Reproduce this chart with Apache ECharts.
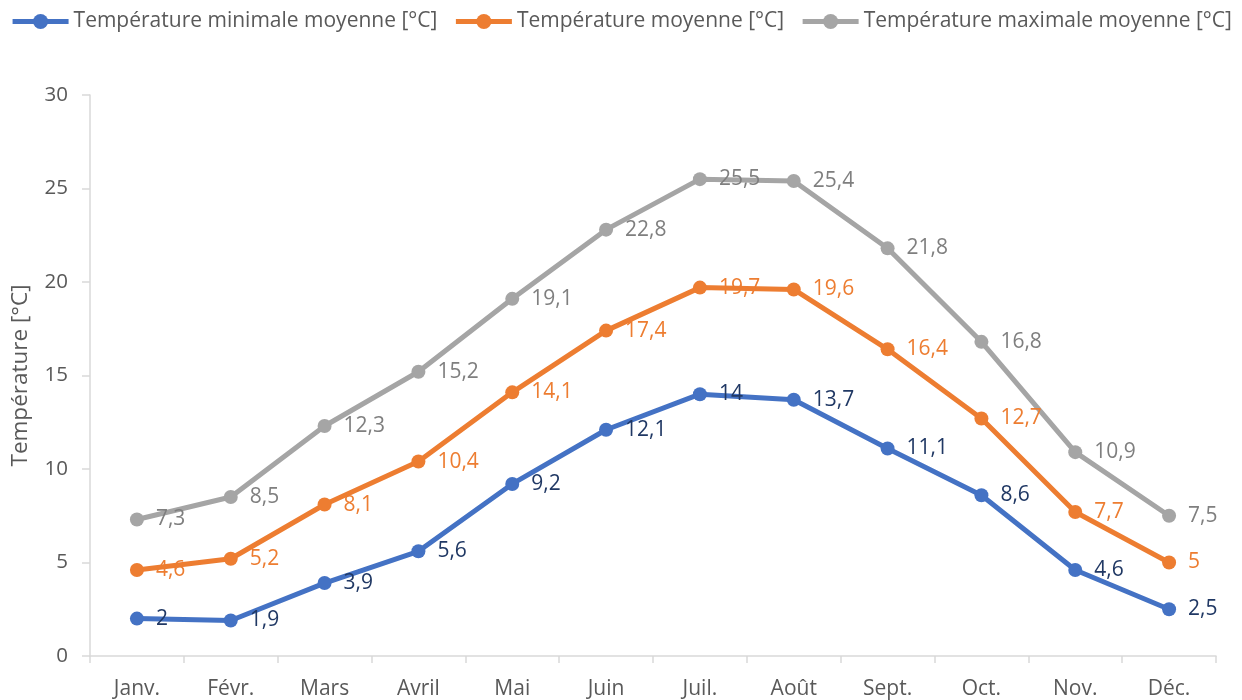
<!DOCTYPE html>
<html>
<head>
<meta charset="utf-8">
<script src="https://cdn.jsdelivr.net/npm/echarts@6/dist/echarts.min.js"></script>
<style>html,body{margin:0;padding:0;background:#fff}#c{width:1242px;height:700px}</style>
</head>
<body>
<div id="c"></div>
<script>
const months = ['Janv.','Févr.','Mars','Avril','Mai','Juin','Juil.','Août','Sept.','Oct.','Nov.','Déc.'];
const tMin = [2, 1.9, 3.9, 5.6, 9.2, 12.1, 14, 13.7, 11.1, 8.6, 4.6, 2.5];
const tMoy = [4.6, 5.2, 8.1, 10.4, 14.1, 17.4, 19.7, 19.6, 16.4, 12.7, 7.7, 5];
const tMax = [7.3, 8.5, 12.3, 15.2, 19.1, 22.8, 25.5, 25.4, 21.8, 16.8, 10.9, 7.5];
const names = ['Température minimale moyenne [°C]','Température moyenne [°C]','Température maximale moyenne [°C]'];

const font = 'Open Sans, Noto Sans, sans-serif';
function mk(name, data, color, labelColor) {
  return {
    name, type: 'line', data,
    symbol: 'circle', symbolSize: 14,
    lineStyle: { width: 5, color },
    itemStyle: { color },
    label: {
      show: true, position: 'right', distance: 12,
      color: labelColor, fontSize: 21, fontFamily: font,
      formatter: p => String(p.value).replace('.', ',')
    }
  };
}
const chart = echarts.init(document.getElementById('c'));
chart.setOption({
  animation: false,
  legend: {
    top: 6, left: 'center', itemWidth: 56, itemHeight: 19, itemGap: 16,
    lineStyle: { width: 5 },
    textStyle: { fontSize: 21, color: '#595959', fontFamily: font }
  },
  grid: { left: 90, right: 26, top: 95, bottom: 42, containLabel: false },
  xAxis: {
    type: 'category', data: months, boundaryGap: true,
    axisLine: { lineStyle: { color: '#D9D9D9', width: 1.5 } },
    axisTick: { show: true, alignWithLabel: false, length: 7, lineStyle: { color: '#D9D9D9', width: 1.5 } },
    axisLabel: { fontSize: 21, color: '#595959', fontFamily: font, margin: 23 }
  },
  yAxis: {
    type: 'value', min: 0, max: 30, interval: 5,
    name: 'Température [°C]', nameLocation: 'middle', nameGap: 58,
    nameTextStyle: { fontSize: 22.5, color: '#595959', fontFamily: font },
    axisLine: { show: true, lineStyle: { color: '#D9D9D9', width: 1.5 } },
    axisTick: { show: true, length: 8, lineStyle: { color: '#D9D9D9', width: 1.5 } },
    splitLine: { show: false },
    axisLabel: { fontSize: 20.5, color: '#595959', fontFamily: font, margin: 22 }
  },
  series: [
    mk(names[0], tMin, '#4472C4', '#203864'),
    mk(names[1], tMoy, '#ED7D31', '#ED7D31'),
    mk(names[2], tMax, '#A5A5A5', '#7F7F7F')
  ]
});
</script>
</body>
</html>
